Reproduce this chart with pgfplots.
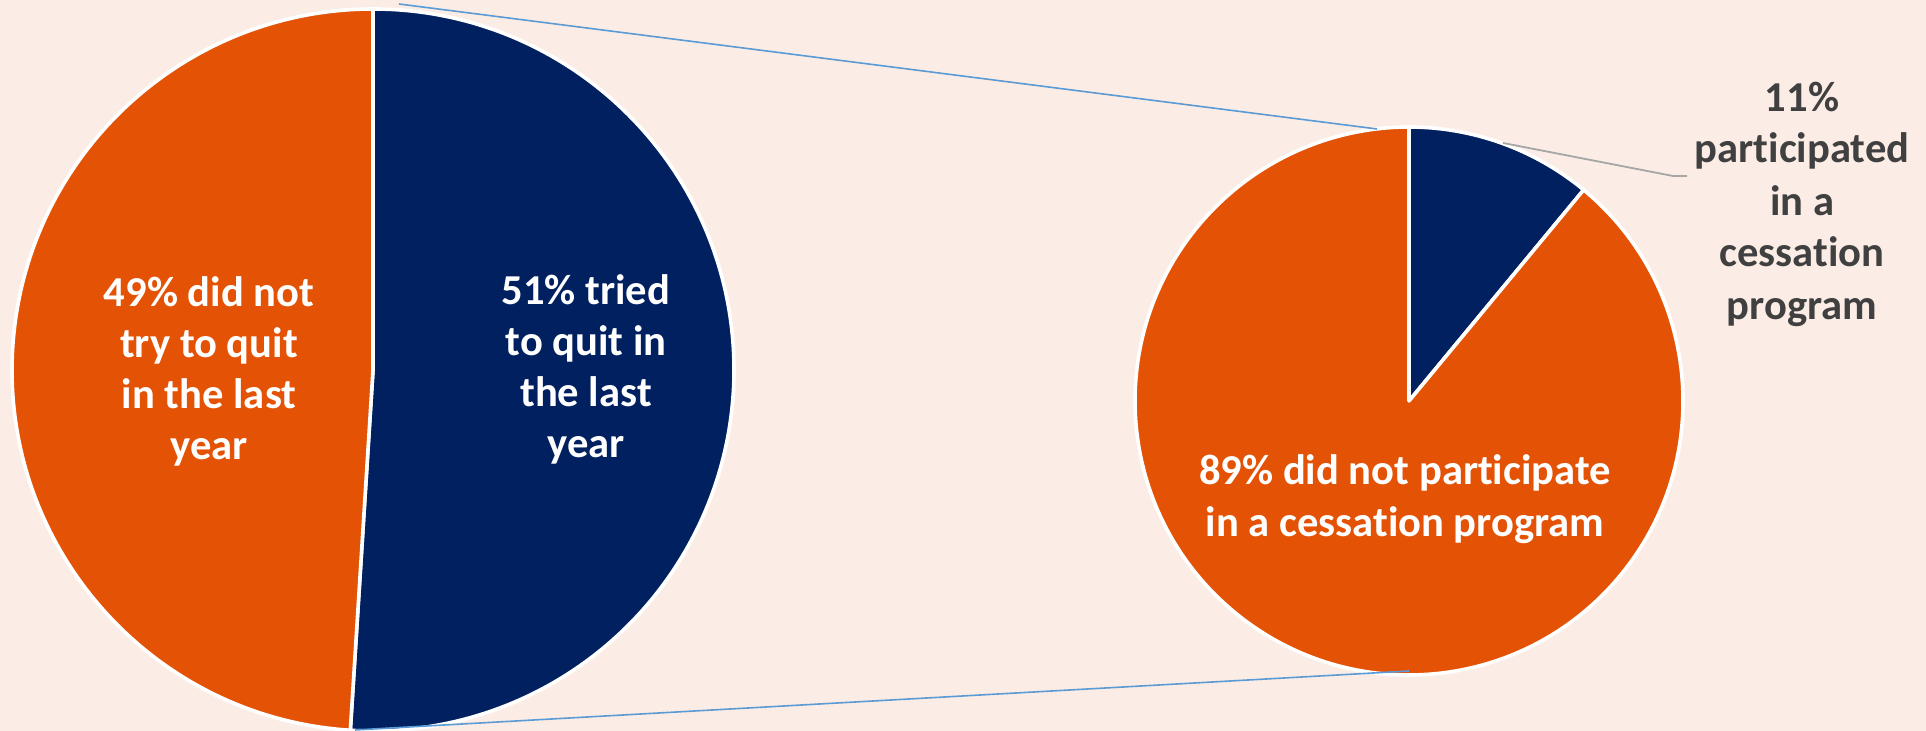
\documentclass[border=0pt]{standalone}
\usepackage{pgfplots}
\pgfplotsset{compat=1.18}
\usepackage{pgfplotstable}
\usepackage{fontspec}
\setmainfont{Carlito}[Ligatures={NoCommon}]
\definecolor{bg}{HTML}{FBEDE6}
\definecolor{navy}{HTML}{002060}
\definecolor{orng}{HTML}{E35205}
\definecolor{conn}{HTML}{5B9BD5}
\definecolor{lead}{HTML}{A6A6A6}
\definecolor{lbl}{HTML}{404040}
\pgfplotstableread{
label value
tried 51
nottried 49
}\firstpie
\pgfplotstableread{
label value
participated 11
notparticipated 89
}\secondpie
\begin{document}
\begin{tikzpicture}
\pgfplotstablegetelem{0}{value}\of\firstpie \let\Aa\pgfplotsretval
\pgfplotstablegetelem{0}{value}\of\secondpie \let\Ba\pgfplotsretval
\pgfmathsetmacro\angA{90-3.6*\Aa}
\pgfmathsetmacro\angB{90-3.6*\Ba}
\begin{axis}[
  width=963pt, height=365.5pt, scale only axis,
  xmin=0, xmax=1926, ymin=0, ymax=731,
  axis lines=none, ticks=none,
]
\fill[bg] (axis cs:0,0) rectangle (axis cs:1926,731);
% left pie
\filldraw[fill=navy, draw=white, line width=1.8pt, line join=round]
  (axis cs:373,361) -- ++(90:180.5pt) arc[start angle=90, end angle=\angA, radius=180.5pt] -- cycle;
\filldraw[fill=orng, draw=white, line width=1.8pt, line join=round]
  (axis cs:373,361) -- ++(\angA:180.5pt) arc[start angle=\angA, end angle=-270, radius=180.5pt] -- cycle;
% right pie
\filldraw[fill=navy, draw=white, line width=1.8pt, line join=round]
  (axis cs:1409,330) -- ++(90:137pt) arc[start angle=90, end angle=\angB, radius=137pt] -- cycle;
\filldraw[fill=orng, draw=white, line width=1.8pt, line join=round]
  (axis cs:1409,330) -- ++(\angB:137pt) arc[start angle=\angB, end angle=-270, radius=137pt] -- cycle;
% connector lines
\draw[conn, line width=0.8pt] (axis cs:399,727) -- (axis cs:1377,602);
\draw[conn, line width=0.8pt] (axis cs:355,1) -- (axis cs:1409,60);
% leader line
\draw[lead, line width=0.9pt] (axis cs:1503,588) -- (axis cs:1673,555) -- (axis cs:1687,555);
% labels
\begin{scope}[every node/.style={inner sep=0pt, anchor=base, font=\fontsize{21.3}{25}\selectfont\bfseries}]
\node[white] at (axis cs:209,424) {49\% did not};
\node[white] at (axis cs:209,373) {try to quit};
\node[white] at (axis cs:209,322) {in the last};
\node[white] at (axis cs:209,271) {year};
\node[white] at (axis cs:586,426) {51\% tried};
\node[white] at (axis cs:586,375) {to quit in};
\node[white] at (axis cs:586,324) {the last};
\node[white] at (axis cs:586,273) {year};
\node[white] at (axis cs:1405,246) {89\% did not participate};
\node[white] at (axis cs:1405,194) {in a cessation program};
\node[lbl] at (axis cs:1802,619) {11\%};
\node[lbl] at (axis cs:1802,568) {participated};
\node[lbl] at (axis cs:1802,515) {in a};
\node[lbl] at (axis cs:1802,464) {cessation};
\node[lbl] at (axis cs:1802,411) {program};
\end{scope}
\end{axis}
\end{tikzpicture}
\end{document}
